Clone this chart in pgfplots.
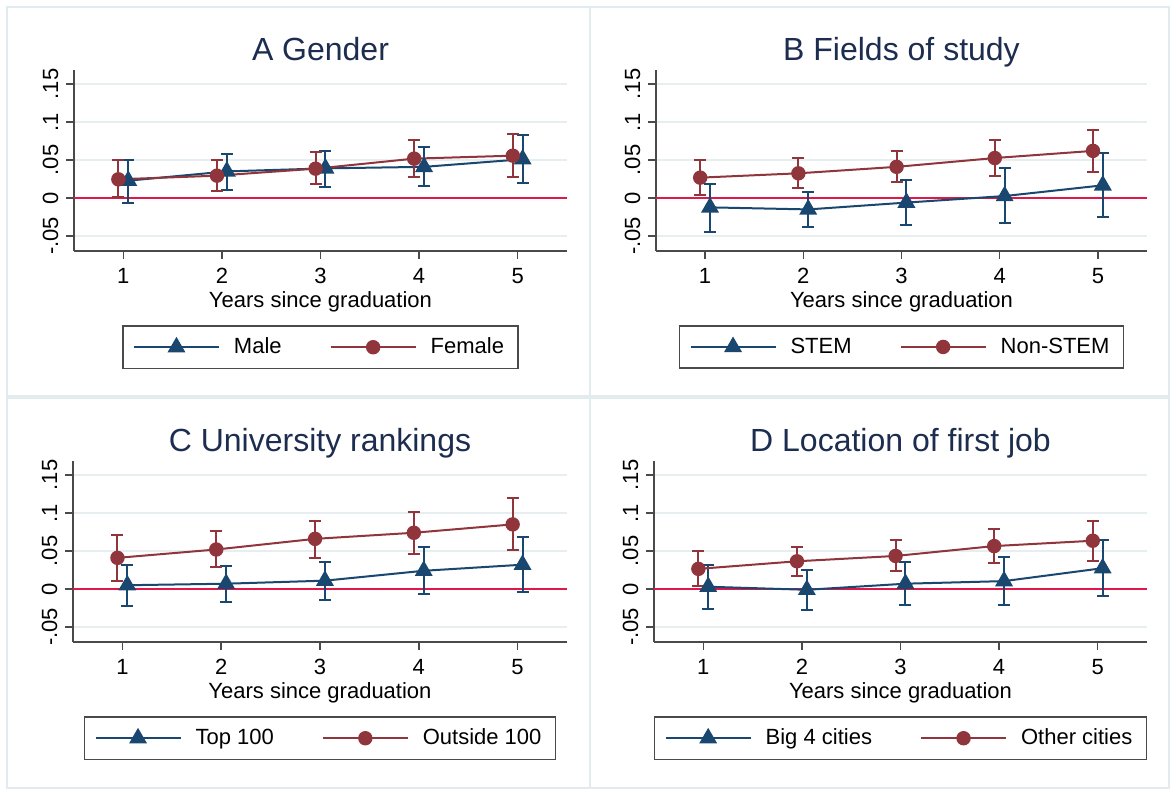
\documentclass[border=0pt]{standalone}
\usepackage{fontspec}
\setmainfont{Liberation Sans}
\usepackage{pgfplots}
\pgfplotsset{compat=1.18}
\definecolor{sblue}{HTML}{1A476F}
\definecolor{sred}{HTML}{90353B}
\definecolor{zline}{HTML}{E0184A}
\definecolor{gridc}{HTML}{E6EEF0}
\definecolor{framec}{HTML}{E2EBEE}
\definecolor{titlec}{HTML}{1C2D4F}
\definecolor{axc}{HTML}{4A4A4A}

\pgfplotsset{
 panel/.style={
  scale only axis, width=246.5pt, height=90.5pt, anchor=south west,
  xmin=0.5, xmax=5.5, ymin=-0.0697, ymax=0.1684,
  axis x line*=bottom, axis y line*=left,
  axis line style={draw=axc, line width=0.75pt},
  xtick={1,2,3,4,5}, ytick={-0.05,0,0.05,0.1,0.15},
  yticklabels={-.05,0,.05,.1,.15},
  tick align=outside, major tick length=4pt,
  tick style={draw=axc, line width=0.75pt},
  ymajorgrids, grid style={draw=gridc, line width=1pt},
  /pgf/number format/assume math mode=true,
  ticklabel style={font=\fontsize{11}{13}\selectfont},
  xticklabel style={anchor=base, yshift=-12pt},
  yticklabel style={xshift=-4pt, rotate=90, anchor=base},
  xlabel={Years since graduation},
  xlabel style={font=\fontsize{11}{13}\selectfont, at={(axis description cs:0.5,0)}, anchor=base, yshift=-28pt},
  title style={font=\fontsize{16}{19}\selectfont, color=titlec, at={(axis description cs:0.5,1)}, anchor=base, yshift=-1pt},
  legend style={at={(0.5,0)}, anchor=north, yshift=-37pt, legend columns=2, draw=axc, line width=0.75pt,
    font=\fontsize{11}{13}\selectfont, inner xsep=5pt, inner ysep=4pt,
    /tikz/every odd column/.append style={column sep=5pt},
    /tikz/every even column/.append style={column sep=22pt}},
  legend image code/.code={\draw[#1, mark repeat=2, mark phase=2] plot coordinates {(0pt,0pt) (21.25pt,0pt) (42.5pt,0pt)};},
 },
 bser/.style={color=sblue, line width=1pt, mark=triangle*, mark size=4.2pt, mark options={solid},
   error bars/.cd, y dir=both, y explicit, error bar style={line width=1pt}, error mark options={rotate=90, line width=1pt, mark size=3pt}},
 rser/.style={color=sred, line width=1pt, mark=*, mark size=3.1pt, mark options={solid},
   error bars/.cd, y dir=both, y explicit, error bar style={line width=1pt}, error mark options={rotate=90, line width=1pt, mark size=3pt}},
}

\begin{document}
\begin{tikzpicture}
\path[fill=white] (0pt,0pt) rectangle (586pt,-396pt);
\draw[framec, line width=0.6pt] (3.5pt,-3.5pt) rectangle (295pt,-198pt);
\draw[framec, line width=0.6pt] (295pt,-3.5pt) rectangle (584.5pt,-198pt);
\draw[framec, line width=0.6pt] (3.5pt,-199pt) rectangle (295pt,-394pt);
\draw[framec, line width=0.6pt] (295pt,-199pt) rectangle (584.5pt,-394pt);

% Panel A
\begin{axis}[panel, at={(37pt,-125.5pt)}, title={A Gender}]
\addplot[zline, line width=1pt, mark=none, forget plot] coordinates {(0.5,0) (5.5,0)};
\addplot[bser] table[x=x, y=y, y error plus=ep, y error minus=em] {
x y ep em
1.05 0.0228 0.0272 0.0298
2.05 0.0350 0.0230 0.0240
3.05 0.0390 0.0230 0.0240
4.05 0.0410 0.0260 0.0250
5.05 0.0510 0.0320 0.0310
};
\addplot[rser] table[x=x, y=y, y error plus=ep, y error minus=em] {
x y ep em
0.95 0.0246 0.0254 0.0236
1.95 0.0294 0.0206 0.0198
2.95 0.0386 0.0214 0.0206
3.95 0.0518 0.0242 0.0238
4.95 0.0557 0.0283 0.0277
};
\legend{Male, Female}
\end{axis}

% Panel B
\begin{axis}[panel, at={(328pt,-125.5pt)}, width=245.5pt, title={B Fields of study}]
\addplot[zline, line width=1pt, mark=none, forget plot] coordinates {(0.5,0) (5.5,0)};
\addplot[bser] table[x=x, y=y, y error plus=ep, y error minus=em] {
x y ep em
1.05 -0.0123 0.0313 0.0327
2.05 -0.0150 0.0230 0.0230
3.05 -0.0060 0.0300 0.0290
4.05 0.0026 0.0364 0.0356
5.05 0.0167 0.0423 0.0413
};
\addplot[rser] table[x=x, y=y, y error plus=ep, y error minus=em] {
x y ep em
0.95 0.0268 0.0232 0.0233
1.95 0.0325 0.0195 0.0189
2.95 0.0410 0.0210 0.0200
3.95 0.0526 0.0234 0.0236
4.95 0.0620 0.0280 0.0280
};
\legend{STEM, Non-STEM}
\end{axis}

% Panel C
\begin{axis}[panel, at={(36.5pt,-321pt)}, width=247pt, title={C University rankings}]
\addplot[zline, line width=1pt, mark=none, forget plot] coordinates {(0.5,0) (5.5,0)};
\addplot[bser] table[x=x, y=y, y error plus=ep, y error minus=em] {
x y ep em
1.05 0.0050 0.0270 0.0270
2.05 0.0070 0.0230 0.0235
3.05 0.0110 0.0250 0.0250
4.05 0.0240 0.0310 0.0300
5.05 0.0320 0.0360 0.0355
};
\addplot[rser] table[x=x, y=y, y error plus=ep, y error minus=em] {
x y ep em
0.95 0.0410 0.0300 0.0300
1.95 0.0520 0.0240 0.0233
2.95 0.0660 0.0240 0.0250
3.95 0.0740 0.0270 0.0280
4.95 0.0850 0.0350 0.0340
};
\legend{Top 100, Outside 100}
\end{axis}

% Panel D
\begin{axis}[panel, at={(327pt,-321pt)}, title={D Location of first job}]
\addplot[zline, line width=1pt, mark=none, forget plot] coordinates {(0.5,0) (5.5,0)};
\addplot[bser] table[x=x, y=y, y error plus=ep, y error minus=em] {
x y ep em
1.05 0.0030 0.0280 0.0287
2.05 -0.0010 0.0260 0.0270
3.05 0.0070 0.0287 0.0280
4.05 0.0104 0.0322 0.0314
5.05 0.0274 0.0376 0.0361
};
\addplot[rser] table[x=x, y=y, y error plus=ep, y error minus=em] {
x y ep em
0.95 0.0265 0.0235 0.0230
1.95 0.0365 0.0192 0.0191
2.95 0.0435 0.0205 0.0192
3.95 0.0565 0.0225 0.0222
4.95 0.0635 0.0265 0.0265
};
\legend{Big 4 cities, Other cities}
\end{axis}
\end{tikzpicture}
\end{document}
